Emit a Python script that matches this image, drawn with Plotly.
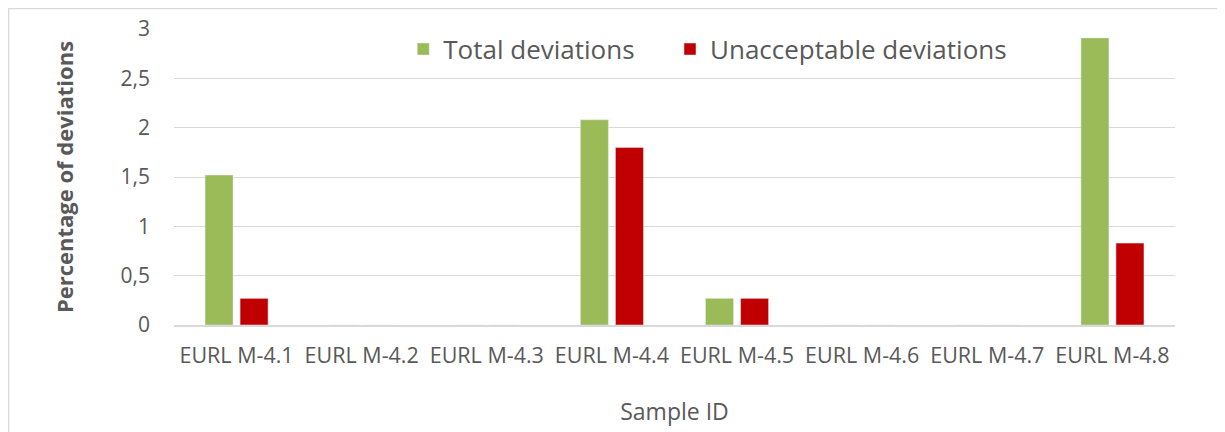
import plotly.graph_objects as go

samples = ["EURL M-4.1", "EURL M-4.2", "EURL M-4.3", "EURL M-4.4",
           "EURL M-4.5", "EURL M-4.6", "EURL M-4.7", "EURL M-4.8"]
total_dev = [1.52, 0, 0, 2.08, 0.27, 0, 0, 2.91]
unacc_dev = [0.27, 0, 0, 1.80, 0.27, 0, 0, 0.83]
y_ticks = [0, 0.5, 1, 1.5, 2, 2.5, 3]
y_tick_text = ["0", "0,5", "1", "1,5", "2", "2,5", "3"]

GREEN = "#9BBB59"
RED = "#C00000"
TEXT = "#595959"
FONT = "Open Sans, Liberation Sans, sans-serif"

fig = go.Figure()
fig.add_trace(go.Bar(x=samples, y=total_dev, name="Total deviations",
                     marker=dict(color=GREEN), legend="legend", showlegend=True))
fig.add_trace(go.Bar(x=samples, y=unacc_dev, name="Unacceptable deviations",
                     marker=dict(color=RED), legend="legend2", showlegend=True))

legend_style = dict(orientation="h", y=0.932, xanchor="left", yanchor="middle",
                    font=dict(size=26, color=TEXT), bgcolor="rgba(0,0,0,0)")

# page body has an 8px default margin, so the figure is sized to fit the window
fig.update_layout(
    width=1217, height=424,
    paper_bgcolor="white", plot_bgcolor="white",
    margin=dict(l=166, r=50, t=21, b=107, autoexpand=False),
    barmode="group", bargap=0.44, bargroupgap=0.2,
    font=dict(family=FONT, color=TEXT, size=21),
    showlegend=True,
    legend=dict(x=0.229, **legend_style),
    legend2=dict(x=0.4955, **legend_style),
    shapes=[dict(type="rect", xref="paper", yref="paper",
                 x0=-0.1653, x1=1.045, y0=-0.5, y1=1.0693,
                 line=dict(color="#d9d9d9", width=1.5), layer="below")],
)
fig.update_xaxes(
    showgrid=False, showline=True, linecolor="#d9d9d9", linewidth=1.5,
    ticks="", tickfont=dict(size=21.5, color=TEXT), ticklabelstandoff=10,
    automargin=False,
    title=dict(text="Sample ID", font=dict(size=23, color=TEXT), standoff=36),
)
fig.update_yaxes(
    range=[0, 3], tickvals=y_ticks, ticktext=y_tick_text,
    showgrid=True, gridcolor="#d9d9d9", gridwidth=1.2, zeroline=False,
    ticks="", ticklabelstandoff=23, tickfont=dict(size=21, color=TEXT),
    automargin=False,
    title=dict(text="<b>Percentage of deviations</b>",
               font=dict(size=22, color=TEXT), standoff=40),
)

fig.write_html("out.html")
